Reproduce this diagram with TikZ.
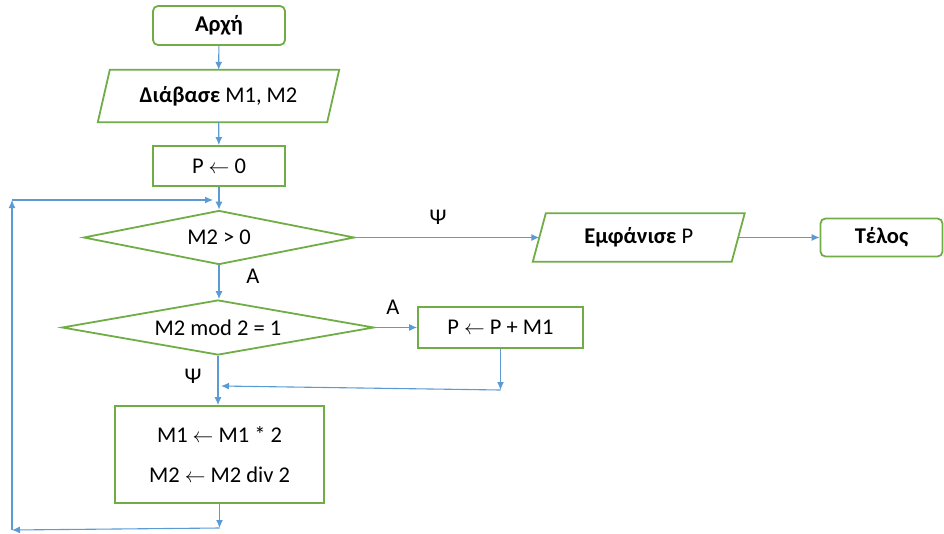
\documentclass[tikz,border=0pt]{standalone}
\usepackage{fontspec}
\setmainfont{Carlito}
\usetikzlibrary{shapes.geometric,arrows.meta}
\definecolor{gr}{HTML}{70AD47}
\definecolor{bl}{HTML}{5B9BD5}
\begin{document}
\begin{tikzpicture}[x=1pt,y=-1pt,
  font=\fontsize{22.5}{26}\selectfont,
  greenline/.style={draw=gr,line width=1.8pt},
  termbox/.style={greenline,rounded corners=5pt,inner sep=0pt},
  procbox/.style={greenline,inner sep=0pt},
  decbox/.style={greenline,diamond,inner sep=0pt},
  iobox/.style={inner sep=0pt},
  conn/.style={draw=bl,line width=1.1pt,-{Latex[length=8pt,width=7pt]}},
  lbl/.style={inner sep=0pt}]
\useasboundingbox (0,0) rectangle (944,533);
\node[termbox,minimum width=132,minimum height=39] (start) at (219,25.5) {\bfseries Αρχή};
\node[iobox,minimum width=229,minimum height=52] (read) at (218.5,96) {\textbf{Διάβασε} M1, M2};
\draw[greenline] ([xshift=6pt]read.north west) -- ([xshift=6pt]read.north east) -- ([xshift=-6pt]read.south east) -- ([xshift=-6pt]read.south west) -- cycle;
\node[procbox,minimum width=132,minimum height=40] (p0) at (219,166) {P $\leftarrow$ 0};
\node[decbox,aspect=5,minimum width=271,minimum height=54] (d1) at (219,237.5) {M2 > 0};
\node[iobox,minimum width=198.5,minimum height=48] (out) at (638.75,237.5) {\textbf{Εμφάνισε} P};
\draw[greenline] ([xshift=6.5pt]out.north west) -- ([xshift=6.5pt]out.north east) -- ([xshift=-6.5pt]out.south east) -- ([xshift=-6.5pt]out.south west) -- cycle;
\node[termbox,minimum width=122,minimum height=38] (end) at (881.5,237.5) {\bfseries Τέλος};
\node[decbox,aspect=5.67,minimum width=312,minimum height=55] (d2) at (218,327.5) {M2 mod 2 = 1};
\node[procbox,minimum width=165,minimum height=41] (add) at (500.5,327.5) {P $\leftarrow$ P + M1};
\node[procbox,minimum width=209,minimum height=97,align=center] (upd) at (219.5,454.5) {M1 $\leftarrow$ M1 * 2\\[14pt]M2 $\leftarrow$ M2 div 2};
\node[lbl] (psi1) at (438,217) {Ψ};
\node[lbl] (a1) at (253,276) {Α};
\node[lbl] (a2) at (393,307) {Α};
\node[lbl] (psi2) at (193,376) {Ψ};
\coordinate (j1) at (500.5,390);
\coordinate (j2) at (221,386);
\coordinate (b1) at (219.5,528);
\coordinate (b2) at (12,530);
\coordinate (b3) at (12,200);
\coordinate (b4) at (213,200);
\draw[conn] (start) -- (read);
\draw[conn] (read) -- (p0);
\draw[conn] (p0) -- (d1);
\draw[conn] (d1) -- (out);
\draw[conn] (out) -- (end);
\draw[conn] (d1.south) -- (d1.south |- d2.north);
\draw[conn] (d2) -- (add);
\draw[conn] (d2.south) -- (d2.south |- upd.north);
\draw[conn] (add.south) -- (j1);
\draw[conn] (j1) -- (j2);
\draw[conn] (upd.south) -- (b1);
\draw[conn] (b1) -- (b2);
\draw[conn] (b2) -- (b3);
\draw[conn] (b3) -- (b4);
\end{tikzpicture}
\end{document}
